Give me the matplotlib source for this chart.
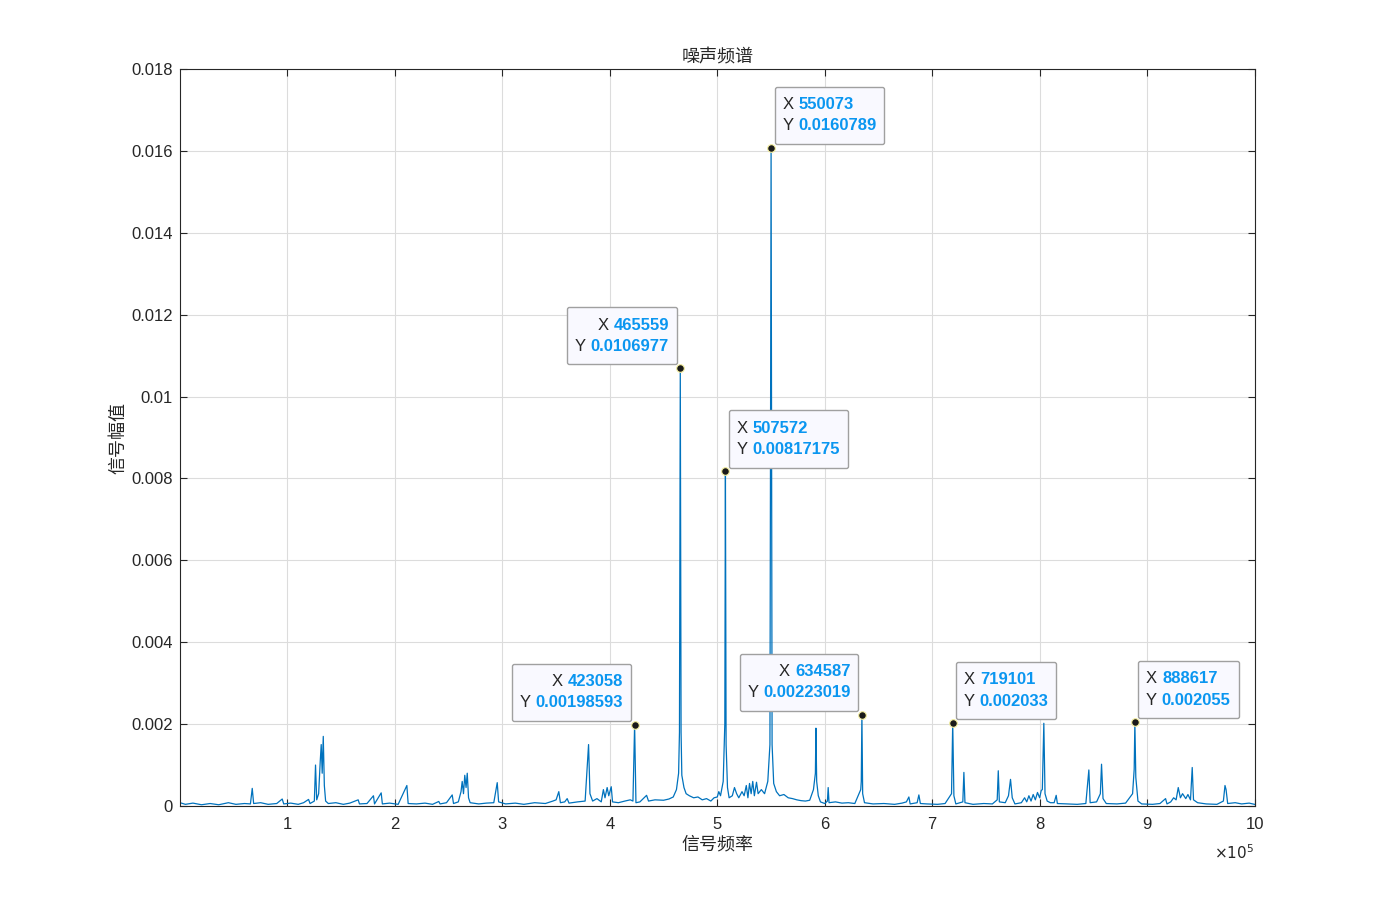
import matplotlib
matplotlib.use("Agg")
import matplotlib.pyplot as plt
from matplotlib.offsetbox import TextArea, HPacker, VPacker, AnnotationBbox, DrawingArea

plt.rcParams['font.family'] = ['Liberation Sans', 'Noto Sans CJK SC', 'DejaVu Sans']

# Spectrum vertices (frequency in Hz, amplitude)
freq = [0, 5000, 12000, 20000, 28000, 36000, 45000, 52000, 60000, 65500, 67200, 68500,
        75000, 82000, 90000, 95100, 96500, 103000, 110000, 115000, 119600, 121000, 125000,
        126100, 127200, 129000, 130500, 131400, 132300, 133300, 134300, 135500, 138000,
        145000, 152000, 158000, 165800, 167000, 174000, 180000, 181000, 187200, 188300,
        195000, 203000, 211100, 212300, 220000, 228000, 235000, 240800, 242000, 248000,
        253300, 254500, 259000, 261500, 262600, 263800, 265000, 266200, 267300, 268500,
        270000, 278000, 285000, 292000, 295200, 296500, 303000, 312000, 320000, 330000,
        340000, 347000, 350000, 352500, 354000, 358000, 360300, 362000, 370000, 377000,
        380200, 381500, 384000, 388000, 392000, 394000, 395500, 397500, 399000, 401300,
        402500, 408000, 414000, 419000, 421500, 423058, 424300, 428000, 434200, 436000,
        442000, 450000, 455000, 459000, 462000, 464000, 464800, 465559, 466300, 467000,
        469000, 471000, 474000, 478000, 482000, 486000, 490000, 494000, 497000, 500000,
        501400, 503000, 505500, 507000, 507572, 508200, 509500, 511000, 514000, 516000,
        518000, 520000, 523000, 525000, 527000, 528500, 530000, 531500, 533000, 534500,
        536500, 538000, 541000, 544000, 547000, 549000, 550073, 551000, 552500, 555000,
        558000, 562000, 566000, 570000, 574000, 578000, 582000, 586000, 589500, 591300,
        591800, 592500, 594000, 596000, 600000, 602500, 603200, 604000, 610000, 616000,
        622000, 628000, 633500, 634000, 634587, 635300, 637000, 645000, 655000, 665000,
        672000, 676000, 678300, 679500, 686000, 687600, 689000, 695000, 705000, 712000,
        718000, 719101, 720200, 722000, 728500, 729500, 730500, 738000, 748000, 756000,
        760500, 761500, 762500, 768000, 771000, 772900, 774500, 777000, 783000, 786000,
        788000, 790000, 792000, 794000, 796000, 798000, 800000, 801500, 802500, 803900,
        805000, 807000, 810000, 813500, 815400, 816500, 825000, 835000, 843000, 845800,
        847000, 853000, 856500, 857600, 859000, 862000, 872000, 880000, 886500, 888000,
        888617, 889500, 891500, 895000, 905000, 912000, 917200, 918500, 922000, 924700,
        927000, 929000, 931000, 933000, 936000, 938000, 940400, 942000, 943200, 947000,
        955000, 965000, 971000, 972500, 973500, 975000, 982000, 988000, 995000, 1000000]
amp = [0.00008, 0.00004, 0.00007, 0.00003, 0.00006, 0.00003, 0.00008, 0.00004, 0.00006, 0.00005, 0.00043, 0.00006,
       0.00008, 0.00004, 0.00006, 0.00017, 0.00005, 0.00007, 0.00004, 0.00008, 0.00016, 0.00006, 0.00012,
       0.00100, 0.00015, 0.00030, 0.00110, 0.00150, 0.00080, 0.00170, 0.00050, 0.00012, 0.00006,
       0.00008, 0.00004, 0.00007, 0.00015, 0.00005, 0.00006, 0.00025, 0.00005, 0.00032, 0.00005,
       0.00007, 0.00004, 0.00050, 0.00006, 0.00005, 0.00007, 0.00004, 0.00011, 0.00005, 0.00008,
       0.00027, 0.00006, 0.00010, 0.00035, 0.00060, 0.00030, 0.00075, 0.00045, 0.00080, 0.00020,
       0.00008, 0.00005, 0.00007, 0.00008, 0.00057, 0.00010, 0.00005, 0.00007, 0.00004, 0.00008,
       0.00006, 0.00012, 0.00015, 0.00035, 0.00008, 0.00010, 0.00018, 0.00007, 0.00010, 0.00012,
       0.00150, 0.00030, 0.00012, 0.00018, 0.00010, 0.00040, 0.00020, 0.00045, 0.00025, 0.00047,
       0.00010, 0.00008, 0.00012, 0.00015, 0.00012, 0.00198593, 0.00008, 0.00010, 0.00026, 0.00012,
       0.00015, 0.00014, 0.00017, 0.00022, 0.00040, 0.00080, 0.00180, 0.0106977, 0.00180, 0.00075,
       0.00045, 0.00030, 0.00025, 0.00020, 0.00022, 0.00015, 0.00018, 0.00012, 0.00020, 0.00022,
       0.00035, 0.00025, 0.00060, 0.00200, 0.00817175, 0.00150, 0.00045, 0.00020, 0.00025, 0.00045,
       0.00030, 0.00020, 0.00035, 0.00025, 0.00050, 0.00020, 0.00055, 0.00030, 0.00060, 0.00025,
       0.00058, 0.00030, 0.00040, 0.00030, 0.00060, 0.00150, 0.0160789, 0.00150, 0.00055, 0.00035,
       0.00025, 0.00028, 0.00020, 0.00018, 0.00015, 0.00013, 0.00012, 0.00014, 0.00040, 0.00080,
       0.00190, 0.00060, 0.00025, 0.00010, 0.00006, 0.00012, 0.00045, 0.00008, 0.00010, 0.00007,
       0.00008, 0.00006, 0.00040, 0.00060, 0.00223019, 0.00030, 0.00008, 0.00005, 0.00006, 0.00004,
       0.00007, 0.00010, 0.00022, 0.00005, 0.00008, 0.00027, 0.00006, 0.00005, 0.00004, 0.00006,
       0.00030, 0.002033, 0.00025, 0.00005, 0.00010, 0.00082, 0.00008, 0.00004, 0.00006, 0.00005,
       0.00015, 0.00086, 0.00010, 0.00008, 0.00025, 0.00065, 0.00020, 0.00005, 0.00008, 0.00020,
       0.00010, 0.00025, 0.00012, 0.00028, 0.00015, 0.00033, 0.00020, 0.00038, 0.00040, 0.00202,
       0.00030, 0.00012, 0.00008, 0.00008, 0.00026, 0.00006, 0.00005, 0.00004, 0.00006, 0.00088,
       0.00008, 0.00010, 0.00030, 0.00102, 0.00018, 0.00006, 0.00005, 0.00007, 0.00030, 0.00090,
       0.002055, 0.00070, 0.00012, 0.00005, 0.00004, 0.00006, 0.00018, 0.00005, 0.00010, 0.00020,
       0.00015, 0.00045, 0.00020, 0.00030, 0.00018, 0.00028, 0.00015, 0.00094, 0.00015, 0.00008,
       0.00005, 0.00004, 0.00012, 0.00050, 0.00040, 0.00006, 0.00008, 0.00005, 0.00007, 0.00004]

# Data tips
tip_x = [550073, 465559, 507572, 423058, 634587, 719101, 888617]
tip_y = [0.0160789, 0.0106977, 0.00817175, 0.00198593, 0.00223019, 0.002033, 0.002055]
tip_xlabel = ['550073', '465559', '507572', '423058', '634587', '719101', '888617']
tip_ylabel = ['0.0160789', '0.0106977', '0.00817175', '0.00198593', '0.00223019', '0.002033', '0.002055']
tip_side = ['right', 'left', 'right', 'left', 'left', 'right', 'right']

xticks = [100000, 200000, 300000, 400000, 500000, 600000, 700000, 800000, 900000, 1000000]
xticklabels = ['1', '2', '3', '4', '5', '6', '7', '8', '9', '10']
yticks = [0, 0.002, 0.004, 0.006, 0.008, 0.010, 0.012, 0.014, 0.016, 0.018]
yticklabels = ['0', '0.002', '0.004', '0.006', '0.008', '0.01', '0.012', '0.014', '0.016', '0.018']

fig = plt.figure(figsize=(13.87, 9.06), dpi=100)
ax = fig.add_axes([0.1298, 0.1104, 0.7747, 0.8134])
ax.plot(freq, amp, color='#0072BD', lw=0.9)

ax.set_xlim(0, 1000000)
ax.set_ylim(0, 0.018)
ax.set_xticks(xticks)
ax.set_xticklabels(xticklabels)
ax.set_yticks(yticks)
ax.set_yticklabels(yticklabels)
ax.grid(True, color='#dcdcdc', lw=0.8)
ax.set_axisbelow(True)
for s in ax.spines.values():
    s.set_color('#262626')
    s.set_linewidth(0.8)
ax.tick_params(direction='in', length=5, width=0.8, color='#262626', labelcolor='#262626',
               labelsize=12, top=True, right=True)
ax.tick_params(axis='x', pad=8)
ax.tick_params(axis='y', pad=5)

ax.set_title('噪声频谱', fontsize=13, color='#262626', pad=5)
ax.set_xlabel('信号频率', fontsize=13, color='#262626', labelpad=3)
ax.set_ylabel('信号幅值', fontsize=13, color='#262626', labelpad=3)
ax.text(1.0, -0.05, r'$\times10^{5}$', transform=ax.transAxes, ha='right', va='top',
        fontsize=11, color='#262626')

pad_frac = 0.57
fs = 12
off = pad_frac * fs + 1.4
for x, y, xl, yl, side in zip(tip_x, tip_y, tip_xlabel, tip_ylabel, tip_side):
    r1 = HPacker(children=[TextArea('X ', textprops=dict(color='#262626', fontsize=fs)),
                           TextArea(xl, textprops=dict(color='#0A96F0', fontsize=fs, fontweight='bold'))],
                 align='baseline', pad=0, sep=0)
    r2 = HPacker(children=[TextArea('Y ', textprops=dict(color='#262626', fontsize=fs)),
                           TextArea(yl, textprops=dict(color='#0A96F0', fontsize=fs, fontweight='bold'))],
                 align='baseline', pad=0, sep=0)
    vp = VPacker(children=[DrawingArea(0, 2), r1, DrawingArea(0, 4.5), r2, DrawingArea(0, 2)],
                 align='right' if side == 'left' else 'left', pad=0, sep=0)
    if side == 'right':
        xybox, align = (off, off), (0, 0)
    else:
        xybox, align = (-off, off), (1, 0)
    ab = AnnotationBbox(vp, (x, y), xybox=xybox, xycoords='data', boxcoords='offset points',
                        box_alignment=align, pad=pad_frac, frameon=True, zorder=4,
                        bboxprops=dict(boxstyle='round,pad=%.2f,rounding_size=0.15' % pad_frac,
                                       facecolor='#F9F9FF', edgecolor='#A0A0A0', lw=1.0))
    ax.add_artist(ab)
    ax.plot([x], [y], 'o', ms=5.5, mfc='#1a1a1a', mec='#F5F0A0', mew=0.8, zorder=5)

fig.savefig('out.png', dpi=100)
